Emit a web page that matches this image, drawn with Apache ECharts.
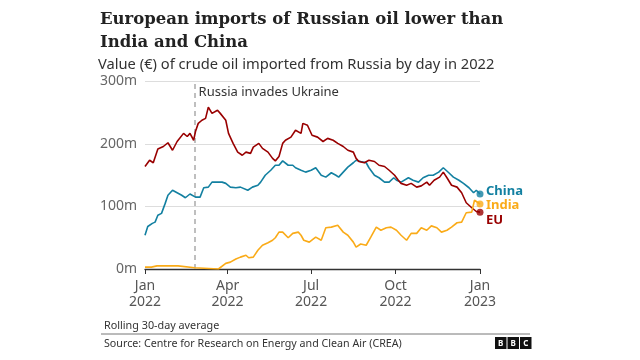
<!DOCTYPE html>
<html><head><meta charset="utf-8">
<script src="https://cdn.jsdelivr.net/npm/echarts@6/dist/echarts.min.js"></script>
<style>html,body{margin:0;padding:0;background:#fff}#c{width:640px;height:360px}</style>
</head><body><div id="c"></div>
<script>
// ---- data (day offset from 1 Jan 2022, value in € millions) ----
const euData = [[0,164],[5,174],[9,170],[14,192],[20,196],[25,202],[30,190],[35,204],[42,217],[46,212],[49,217],[53,206],[55,220],[58,233],[62,238],[66,241],[69,259],[73,249],[79,254],[82,249],[88,238],[91,217],[93,217],[96,201],[101,187],[106,182],[110,187],[115,185],[118,195],[124,201],[128,193],[134,187],[139,177],[142,173],[146,180],[150,201],[153,206],[159,211],[164,222],[170,217],[172,233],[177,230],[182,214],[188,211],[194,204],[199,209],[205,206],[210,201],[216,196],[221,190],[227,187],[230,177],[233,172],[239,170],[244,174],[250,172],[255,166],[261,164],[266,158],[272,150],[276,142],[279,137],[285,134],[290,137],[296,131],[301,133],[307,139],[310,134],[315,142],[321,147],[325,155],[329,146],[334,134],[340,131],[345,122],[350,106],[356,98],[361,92],[365,91]];
const chinaData = [[0,54],[3,68],[8,73],[11,75],[14,86],[18,89],[22,105],[25,118],[30,126],[35,122],[40,118],[44,114],[49,120],[55,115],[60,115],[64,130],[69,131],[73,139],[79,139],[84,139],[88,137],[93,131],[99,130],[104,131],[112,126],[117,131],[123,134],[126,139],[131,150],[137,158],[142,166],[146,166],[150,173],[156,166],[161,166],[164,162],[170,158],[175,155],[181,158],[186,162],[192,150],[197,147],[203,154],[208,150],[211,147],[216,155],[221,163],[227,170],[230,174],[235,172],[241,170],[244,162],[250,150],[255,146],[261,139],[266,139],[271,146],[274,142],[279,139],[287,146],[292,142],[298,139],[303,146],[309,150],[314,150],[320,155],[325,162],[331,154],[336,147],[342,142],[347,137],[353,130],[358,122],[361,126],[365,120]];
const indiaData = [[0,3],[7,3],[13,5],[25,5],[36,5],[38,3],[54,2],[56,0],[80,0],[82,3],[88,9],[93,11],[99,16],[104,19],[110,22],[113,18],[118,19],[123,30],[128,38],[134,42],[139,46],[142,50],[146,59],[150,59],[156,50],[161,57],[167,59],[170,54],[173,46],[179,43],[181,45],[186,51],[192,46],[197,66],[203,67],[210,70],[216,59],[221,54],[227,43],[230,35],[235,40],[241,38],[246,51],[252,67],[257,62],[263,66],[268,67],[274,62],[279,54],[285,46],[290,57],[296,57],[301,66],[307,62],[312,69],[318,66],[323,59],[329,62],[334,67],[340,74],[345,75],[350,90],[356,91],[359,110],[361,107],[365,104]];
const seriesNames = ['China','India','EU'];
const tickDays = [0, 90, 181, 273, 365];
const tickLabels = ['Jan\n2022','Apr\n2022','Jul\n2022','Oct\n2022','Jan\n2023'];
const yMin = 0, yMax = 300, yStep = 100;
const invasionDay = 54;
const invasionLabel = 'Russia invades Ukraine';
const titleText = 'European imports of Russian oil lower than\nIndia and China';
const subtitleText = 'Value (€) of crude oil imported from Russia by day in 2022';
const noteText = 'Rolling 30-day average';
const sourceText = 'Source: Centre for Research on Energy and Clean Air (CREA)';

// ---- build ----
const colors = {China:'#1380A1', India:'#FAAB18', EU:'#990000'};
const dataMap = {China:chinaData, India:indiaData, EU:euData};
const labelOffset = {China:[0,-3], India:[0,1], EU:[0,8]};

const chart = echarts.init(document.getElementById('c'), null, {renderer:'canvas'});
const lineSeries = seriesNames.map(n => ({
  name:n, type:'line', data:dataMap[n], showSymbol:false, symbol:'none',
  lineStyle:{color:colors[n], width:1.6}, itemStyle:{color:colors[n]},
  z: n==='EU'?3:(n==='China'?2:4), silent:true, animation:false,
  endLabel:{show:true, formatter:n, color:colors[n], fontWeight:'bold', fontSize:13,
    fontFamily:'Noto Sans', distance:6, offset:labelOffset[n]}
}));
const dotSeries = {
  type:'scatter', symbolSize:7, animation:false, silent:true, z:5,
  data: seriesNames.map(n => { const a = dataMap[n]; const l = a[a.length-1];
    return {value:[l[0], l[1]], itemStyle:{color:colors[n]}}; })
};
lineSeries[0].markLine = {
  silent:true, symbol:['none','none'], animation:false, z:1,
  lineStyle:{color:'#aaaaaa', type:[5,4], width:1.5},
  label:{show:false},
  data:[{xAxis:invasionDay}]
};
lineSeries[0].markPoint = {
  silent:true, animation:false, symbol:'circle', symbolSize:0,
  data:[{coord:[invasionDay,283], label:{show:true, position:'right', distance:4,
    formatter:invasionLabel, color:'#333', fontSize:13, fontFamily:'Noto Sans'}}]
};

chart.setOption({
  animation:false,
  title:[
    {text:titleText, left:100, top:8, padding:0, textStyle:{fontFamily:'DejaVu Serif', fontWeight:'bold', fontSize:16.5, lineHeight:23, color:'#222'}},
    {text:subtitleText, left:98, top:57, padding:0, textStyle:{fontFamily:'Noto Sans', fontWeight:'normal', fontSize:14.7, color:'#333'}},
    {text:noteText, left:104, top:320, padding:0, textStyle:{fontFamily:'Noto Sans', fontWeight:'normal', fontSize:10.8, color:'#333'}},
    {text:sourceText, left:104, top:338, padding:0, textStyle:{fontFamily:'Noto Sans', fontWeight:'normal', fontSize:10.7, color:'#333'}}
  ],
  graphic:[
    {type:'line', shape:{x1:101, y1:334, x2:530, y2:334}, style:{stroke:'#777', lineWidth:1}},
    ...['B','B','C'].map((ch,i) => ({type:'group', left:495+i*12.5, top:337, children:[
      {type:'rect', shape:{x:0,y:0,width:11.5,height:12}, style:{fill:'#111'}},
      {type:'text', style:{text:ch, x:5.75, y:6.5, align:'center', verticalAlign:'middle', fill:'#fff', font:'bold 8px Noto Sans'}}
    ]}))
  ],
  grid:{left:145, right:160, top:81.5, bottom:91},
  xAxis:{type:'value', min:tickDays[0], max:tickDays[tickDays.length-1],
    axisLine:{lineStyle:{color:'#333', width:1.3}},
    axisTick:{show:true, customValues:tickDays, length:5, lineStyle:{color:'#333'}},
    axisLabel:{customValues:tickDays, color:'#555', fontSize:14, lineHeight:16, margin:9, fontFamily:'Noto Sans',
      formatter:v => tickLabels[tickDays.indexOf(v)]},
    splitLine:{show:false}},
  yAxis:{type:'value', min:yMin, max:yMax, interval:yStep,
    axisLine:{show:false}, axisTick:{show:false},
    axisLabel:{color:'#666', fontSize:14, margin:8, fontFamily:'Noto Sans', formatter:v => v + 'm'},
    splitLine:{lineStyle:{color:'#dddddd', width:1}}},
  series:[...lineSeries, dotSeries]
});
</script></body></html>
